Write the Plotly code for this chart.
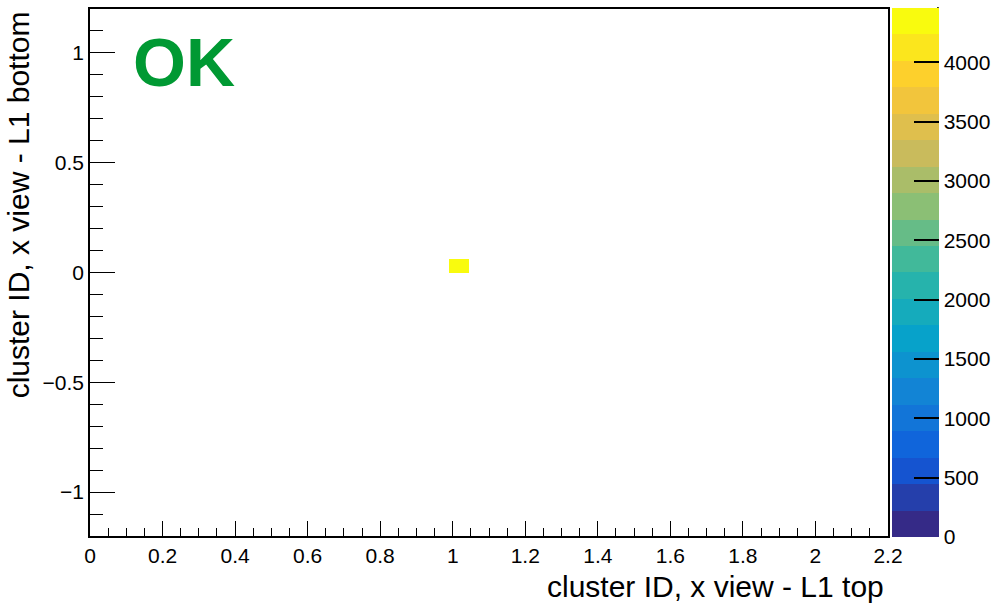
import numpy as np
import plotly.graph_objects as go

# ---- data ----
x_range = [0.0, 2.2]
y_range = [-1.2, 1.2]
n_xbins = 40
n_ybins = 40
filled_x = [1.0175]      # bin centre (x)
filled_y = [0.03]        # bin centre (y)
filled_counts = [4245]
z_max = 4457
x_title = "cluster ID, x view - L1 top"
y_title = "cluster ID, x view - L1 bottom"
status_text = "OK"

# ---- build histogram grid ----
x_edges = np.linspace(x_range[0], x_range[1], n_xbins + 1)
y_edges = np.linspace(y_range[0], y_range[1], n_ybins + 1)
xc = 0.5 * (x_edges[:-1] + x_edges[1:])
yc = 0.5 * (y_edges[:-1] + y_edges[1:])
z = [[None] * n_xbins for _ in range(n_ybins)]
for fx, fy, c in zip(filled_x, filled_y, filled_counts):
    ix = int(np.searchsorted(x_edges, fx) - 1)
    iy = int(np.searchsorted(y_edges, fy) - 1)
    z[iy][ix] = c

# ---- ROOT kBird palette, 20 discrete contours ----
stops = [0.0, 0.125, 0.25, 0.375, 0.5, 0.625, 0.75, 0.875, 1.0]
red = [0.2082, 0.0592, 0.0780, 0.0232, 0.1802, 0.5301, 0.8186, 0.9956, 0.9764]
green = [0.1664, 0.3599, 0.5041, 0.6419, 0.7178, 0.7492, 0.7328, 0.7862, 0.9832]
blue = [0.5293, 0.8684, 0.8385, 0.7914, 0.6425, 0.4662, 0.3499, 0.1968, 0.0539]
n_cont = 20
cs = []
for i in range(n_cont):
    t = i / (n_cont - 1)
    r = np.interp(t, stops, red)
    g = np.interp(t, stops, green)
    b = np.interp(t, stops, blue)
    col = "rgb(%d,%d,%d)" % (round(r * 255), round(g * 255), round(b * 255))
    cs.append([i / n_cont, col])
    cs.append([(i + 1) / n_cont, col])

font_family = "Liberation Sans, Arial, sans-serif"

fig = go.Figure()
fig.add_trace(go.Heatmap(
    x=xc, y=yc, z=z,
    zmin=0, zmax=z_max,
    colorscale=cs,
    hoverongaps=False,
    colorbar=dict(
        x=1.005, xanchor="left", xpad=0,
        y=0.5, yanchor="middle", len=1.004, ypad=0,
        thickness=47,
        outlinewidth=0,
        ticks="inside", ticklen=25, tickcolor="black", tickwidth=1.5,
        tick0=0, dtick=500,
        tickfont=dict(family=font_family, size=21, color="black"),
    ),
))

fig.update_layout(
    width=993, height=608,
    margin=dict(l=90, r=105, t=9, b=72, autoexpand=False),
    paper_bgcolor="white", plot_bgcolor="white",
    showlegend=False,
    font=dict(family=font_family, color="black"),
)
fig.update_xaxes(
    range=x_range, showgrid=False, zeroline=False,
    showline=True, linecolor="black", linewidth=1.5, mirror=True,
    ticks="inside", ticklen=15, tickwidth=1.2, tickcolor="black",
    tick0=0, dtick=0.2, tickformat="~g",
    tickfont=dict(size=21),
    minor=dict(ticks="inside", ticklen=8, dtick=0.05, tickcolor="black", tickwidth=1.2),
)
fig.update_yaxes(
    range=y_range, showgrid=False, zeroline=False,
    showline=True, linecolor="black", linewidth=1.5, mirror=True,
    ticks="inside", ticklen=25, tickwidth=1.2, tickcolor="black",
    tickvals=[-1, -0.5, 0, 0.5, 1], ticktext=["\u22121", "\u22120.5", "0", "0.5", "1"],
    tickfont=dict(size=21),
    minor=dict(ticks="inside", ticklen=13, dtick=0.1, tick0=0, tickcolor="black", tickwidth=1.2),
)

# right edge line of the colour bar (ROOT palette axis)
fig.add_shape(type="line", xref="paper", yref="paper",
              x0=1.0626, x1=1.0626, y0=0, y1=1.004,
              line=dict(color="black", width=1.5))

# axis titles (ROOT style: right/top aligned)
fig.add_annotation(text=x_title, xref="paper", yref="paper",
                   x=0.9975, y=-0.06, xanchor="right", yanchor="top",
                   showarrow=False, font=dict(size=30, family=font_family))
fig.add_annotation(text=y_title, xref="paper", yref="paper",
                   x=-0.066, y=1.0, xanchor="right", yanchor="top", textangle=-90,
                   showarrow=False, font=dict(size=30, family=font_family))
fig.add_annotation(text="<b>%s</b>" % status_text, xref="paper", yref="paper",
                   x=0.052, y=0.975, xanchor="left", yanchor="top",
                   showarrow=False, font=dict(size=68, family=font_family, color="rgb(0,153,51)"))

fig.write_html("out.html")
